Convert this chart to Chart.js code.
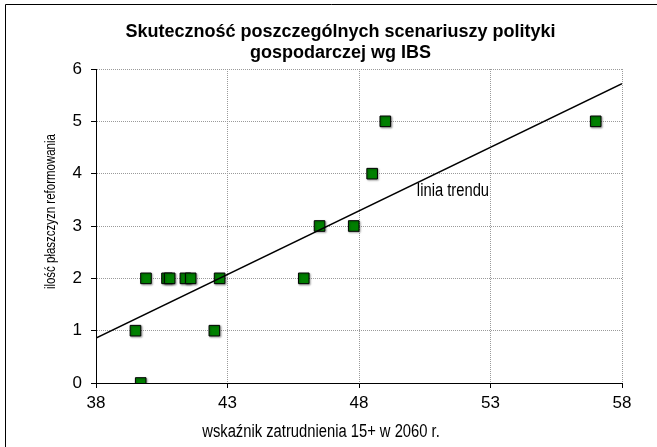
<!DOCTYPE html>
<html><head><meta charset="utf-8">
<script src="https://cdn.jsdelivr.net/npm/chart.js@4.4.1/dist/chart.umd.min.js"></script>
<style>html,body{margin:0;padding:0;background:#fff;}#wrap{width:657px;height:447px;}</style>
</head><body><div id="wrap"><canvas id="c" width="657" height="447"></canvas></div>
<script>
const titleLines = ['Skuteczność poszczególnych scenariuszy polityki', 'gospodarczej wg IBS'];
const xAxisTitle = 'wskaźnik zatrudnienia 15+ w 2060 r.';
const yAxisTitle = 'ilość płaszczyzn reformowania';
const trendLabel = 'linia trendu';
const employmentRate = [39.5, 39.7, 39.9, 40.7, 40.8, 41.4, 41.6, 42.5, 42.7, 45.9, 46.5, 47.8, 48.5, 49.0, 57.0];
const reformAreas    = [1,    0,    2,    2,    2,    2,    2,    1,    2,    2,    3,    3,    4,    5,    5];
const trendX = [38, 58];
const trendY = [0.86, 5.72];
const xTicks = [38, 43, 48, 53, 58];
const yTicks = [0, 1, 2, 3, 4, 5, 6];

const SANS = "'Liberation Sans',Arial,sans-serif";
const SQUEEZE = 0.82;

function narrowText(ctx, text, x, y, size, align, rotate) {
  ctx.save();
  ctx.translate(x, y);
  if (rotate) ctx.rotate(-Math.PI / 2);
  ctx.scale(SQUEEZE, 1);
  ctx.font = size + 'px ' + SANS;
  ctx.textAlign = align; ctx.textBaseline = 'middle';
  ctx.fillText(text, 0, 0);
  ctx.restore();
}

const decor = {
  id: 'decor',
  beforeDraw(chart) {
    const ctx = chart.ctx;
    ctx.save();
    ctx.strokeStyle = '#000'; ctx.lineWidth = 1;
    ctx.beginPath(); ctx.moveTo(5.5, 460); ctx.lineTo(5.5, 4.5); ctx.lineTo(670, 4.5); ctx.stroke();
    ctx.restore();
  },
  beforeDatasetDraw(chart, args) {
    if (args.index === 0) {
      const ctx = chart.ctx; ctx.save();
      ctx.shadowColor = 'rgba(0,0,0,0.35)'; ctx.shadowBlur = 2; ctx.shadowOffsetX = 1; ctx.shadowOffsetY = 1;
    }
  },
  afterDatasetDraw(chart, args) {
    if (args.index === 0) chart.ctx.restore();
  },
  afterDraw(chart) {
    const ctx = chart.ctx;
    const xs = chart.scales.x, ys = chart.scales.y;
    ctx.save();
    ctx.fillStyle = '#000';
    ctx.textAlign = 'center'; ctx.textBaseline = 'alphabetic';
    ctx.font = 'bold 18px ' + SANS;
    ctx.fillText(titleLines[0], 340.5, 37);
    ctx.fillText(titleLines[1], 340.5, 58);
    narrowText(ctx, xAxisTitle, 321, 432, 18, 'center', false);
    narrowText(ctx, yAxisTitle, 51, 211.6, 14, 'center', true);
    narrowText(ctx, trendLabel, xs.getPixelForValue(50.2), ys.getPixelForValue(3.66), 18, 'left', false);
    ctx.restore();
  }
};

new Chart(document.getElementById('c'), {
  type: 'scatter',
  data: {
    datasets: [
      {
        data: employmentRate.map((v, i) => ({ x: v, y: reformAreas[i] })),
        pointStyle: 'rect', pointRadius: 7.5, pointHoverRadius: 7.5,
        backgroundColor: '#008000', borderColor: '#000', borderWidth: 1,
        order: 1
      },
      {
        type: 'line',
        data: trendX.map((v, i) => ({ x: v, y: trendY[i] })),
        borderColor: '#000', borderWidth: 1.5, pointRadius: 0, fill: false,
        order: 0
      }
    ]
  },
  options: {
    responsive: false, animation: false,
    layout: { padding: { top: 69, right: 35, left: 0, bottom: 0 } },
    plugins: { legend: { display: false }, tooltip: { enabled: false }, title: { display: false } },
    scales: {
      x: {
        type: 'linear', min: 38, max: 58,
        afterBuildTicks: s => { s.ticks = xTicks.map(v => ({ value: v })); },
        afterFit: s => { s.height = 64; },
        grid: { color: '#9a9a9a', lineWidth: 1, tickColor: '#000', tickWidth: 1, tickLength: 5, tickBorderDash: [] },
        border: { display: true, color: '#000', width: 1, dash: [1, 1] },
        ticks: { color: '#000', font: { family: SANS, size: 17 }, padding: 5, maxRotation: 0 }
      },
      y: {
        type: 'linear', min: 0, max: 6,
        afterBuildTicks: s => { s.ticks = yTicks.map(v => ({ value: v })); },
        afterFit: s => { s.width = 96; },
        grid: { color: '#9a9a9a', lineWidth: 1, tickColor: '#000', tickWidth: 1, tickLength: 5, tickBorderDash: [] },
        border: { display: true, color: '#000', width: 1, dash: [1, 1] },
        ticks: { color: '#000', font: { family: SANS, size: 17 }, padding: 9 }
      }
    }
  },
  plugins: [decor]
});
</script>
</body></html>
